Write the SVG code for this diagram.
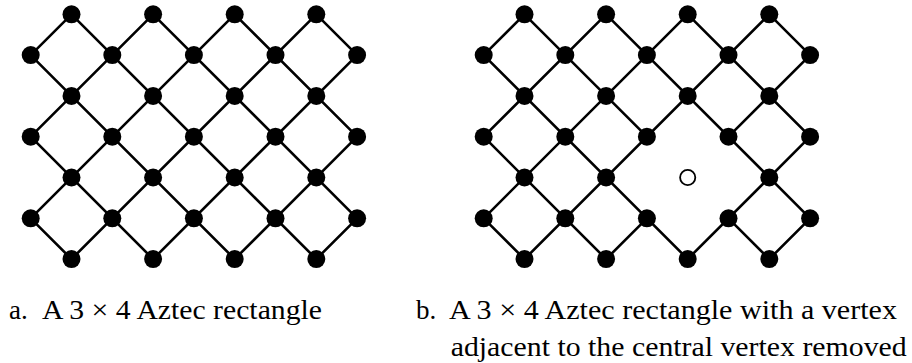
<svg xmlns="http://www.w3.org/2000/svg" width="912" height="363" viewBox="0 0 912 363">
<style>
.edge{stroke:#000;stroke-width:2.6;fill:none;stroke-linecap:round}
.v{fill:#000}
.hole{fill:#fff;stroke:#000;stroke-width:1.8}
.cap{font-family:"Liberation Serif","Times New Roman",serif;font-size:27px;fill:#000}
</style>
<defs>
<circle id="dot" r="9" class="v"/>
</defs>
<rect width="912" height="363" fill="#fff"/>
<g id="connectors">
<path class="edge" d="M30.7,218.3L71.5,259.1M30.7,136.7L153.1,259.1M30.7,55.1L234.7,259.1M71.5,14.3L316.3,259.1M153.1,14.3L357.1,218.3M234.7,14.3L357.1,136.7M316.3,14.3L357.1,55.1M71.5,14.3L30.7,55.1M153.1,14.3L30.7,136.7M234.7,14.3L30.7,218.3M316.3,14.3L71.5,259.1M357.1,55.1L153.1,259.1M357.1,136.7L234.7,259.1M357.1,218.3L316.3,259.1"/>
<path class="edge" d="M483.7,218.3L524.5,259.1M483.7,136.7L606.1,259.1M483.7,55.1L687.7,259.1M524.5,14.3L646.9,136.7M728.5,218.3L769.3,259.1M606.1,14.3L810.1,218.3M687.7,14.3L810.1,136.7M769.3,14.3L810.1,55.1M524.5,14.3L483.7,55.1M606.1,14.3L483.7,136.7M687.7,14.3L483.7,218.3M769.3,14.3L524.5,259.1M810.1,55.1L728.5,136.7M646.9,218.3L606.1,259.1M810.1,136.7L687.7,259.1M810.1,218.3L769.3,259.1"/>
</g>
<g id="graph-a">
<g id="a-r0c1"><use href="#dot" x="71.5" y="14.3"/></g>
<g id="a-r0c3"><use href="#dot" x="153.1" y="14.3"/></g>
<g id="a-r0c5"><use href="#dot" x="234.7" y="14.3"/></g>
<g id="a-r0c7"><use href="#dot" x="316.3" y="14.3"/></g>
<g id="a-r1c0"><use href="#dot" x="30.7" y="55.1"/></g>
<g id="a-r1c2"><use href="#dot" x="112.3" y="55.1"/></g>
<g id="a-r1c4"><use href="#dot" x="193.9" y="55.1"/></g>
<g id="a-r1c6"><use href="#dot" x="275.5" y="55.1"/></g>
<g id="a-r1c8"><use href="#dot" x="357.1" y="55.1"/></g>
<g id="a-r2c1"><use href="#dot" x="71.5" y="95.9"/></g>
<g id="a-r2c3"><use href="#dot" x="153.1" y="95.9"/></g>
<g id="a-r2c5"><use href="#dot" x="234.7" y="95.9"/></g>
<g id="a-r2c7"><use href="#dot" x="316.3" y="95.9"/></g>
<g id="a-r3c0"><use href="#dot" x="30.7" y="136.7"/></g>
<g id="a-r3c2"><use href="#dot" x="112.3" y="136.7"/></g>
<g id="a-r3c4"><use href="#dot" x="193.9" y="136.7"/></g>
<g id="a-r3c6"><use href="#dot" x="275.5" y="136.7"/></g>
<g id="a-r3c8"><use href="#dot" x="357.1" y="136.7"/></g>
<g id="a-r4c1"><use href="#dot" x="71.5" y="177.5"/></g>
<g id="a-r4c3"><use href="#dot" x="153.1" y="177.5"/></g>
<g id="a-r4c5"><use href="#dot" x="234.7" y="177.5"/></g>
<g id="a-r4c7"><use href="#dot" x="316.3" y="177.5"/></g>
<g id="a-r5c0"><use href="#dot" x="30.7" y="218.3"/></g>
<g id="a-r5c2"><use href="#dot" x="112.3" y="218.3"/></g>
<g id="a-r5c4"><use href="#dot" x="193.9" y="218.3"/></g>
<g id="a-r5c6"><use href="#dot" x="275.5" y="218.3"/></g>
<g id="a-r5c8"><use href="#dot" x="357.1" y="218.3"/></g>
<g id="a-r6c1"><use href="#dot" x="71.5" y="259.1"/></g>
<g id="a-r6c3"><use href="#dot" x="153.1" y="259.1"/></g>
<g id="a-r6c5"><use href="#dot" x="234.7" y="259.1"/></g>
<g id="a-r6c7"><use href="#dot" x="316.3" y="259.1"/></g>
</g>
<g id="graph-b">
<g id="b-r0c1"><use href="#dot" x="524.5" y="14.3"/></g>
<g id="b-r0c3"><use href="#dot" x="606.1" y="14.3"/></g>
<g id="b-r0c5"><use href="#dot" x="687.7" y="14.3"/></g>
<g id="b-r0c7"><use href="#dot" x="769.3" y="14.3"/></g>
<g id="b-r1c0"><use href="#dot" x="483.7" y="55.1"/></g>
<g id="b-r1c2"><use href="#dot" x="565.3" y="55.1"/></g>
<g id="b-r1c4"><use href="#dot" x="646.9" y="55.1"/></g>
<g id="b-r1c6"><use href="#dot" x="728.5" y="55.1"/></g>
<g id="b-r1c8"><use href="#dot" x="810.1" y="55.1"/></g>
<g id="b-r2c1"><use href="#dot" x="524.5" y="95.9"/></g>
<g id="b-r2c3"><use href="#dot" x="606.1" y="95.9"/></g>
<g id="b-r2c5"><use href="#dot" x="687.7" y="95.9"/></g>
<g id="b-r2c7"><use href="#dot" x="769.3" y="95.9"/></g>
<g id="b-r3c0"><use href="#dot" x="483.7" y="136.7"/></g>
<g id="b-r3c2"><use href="#dot" x="565.3" y="136.7"/></g>
<g id="b-r3c4"><use href="#dot" x="646.9" y="136.7"/></g>
<g id="b-r3c6"><use href="#dot" x="728.5" y="136.7"/></g>
<g id="b-r3c8"><use href="#dot" x="810.1" y="136.7"/></g>
<g id="b-r4c1"><use href="#dot" x="524.5" y="177.5"/></g>
<g id="b-r4c3"><use href="#dot" x="606.1" y="177.5"/></g>
<g id="b-r4c5-removed"><circle class="hole" cx="687.7" cy="177.5" r="7.6"/></g>
<g id="b-r4c7"><use href="#dot" x="769.3" y="177.5"/></g>
<g id="b-r5c0"><use href="#dot" x="483.7" y="218.3"/></g>
<g id="b-r5c2"><use href="#dot" x="565.3" y="218.3"/></g>
<g id="b-r5c4"><use href="#dot" x="646.9" y="218.3"/></g>
<g id="b-r5c6"><use href="#dot" x="728.5" y="218.3"/></g>
<g id="b-r5c8"><use href="#dot" x="810.1" y="218.3"/></g>
<g id="b-r6c1"><use href="#dot" x="524.5" y="259.1"/></g>
<g id="b-r6c3"><use href="#dot" x="606.1" y="259.1"/></g>
<g id="b-r6c5"><use href="#dot" x="687.7" y="259.1"/></g>
<g id="b-r6c7"><use href="#dot" x="769.3" y="259.1"/></g>
</g>
<g id="captions" class="cap">
<text x="9" y="319">a.</text>
<text x="42" y="319" textLength="280" lengthAdjust="spacingAndGlyphs">A 3 × 4 Aztec rectangle</text>
<text x="416" y="319">b.</text>
<text x="449" y="319" textLength="448" lengthAdjust="spacingAndGlyphs">A 3 × 4 Aztec rectangle with a vertex</text>
<text x="450.7" y="356" textLength="456" lengthAdjust="spacingAndGlyphs">adjacent to the central vertex removed</text>
</g>
</svg>
